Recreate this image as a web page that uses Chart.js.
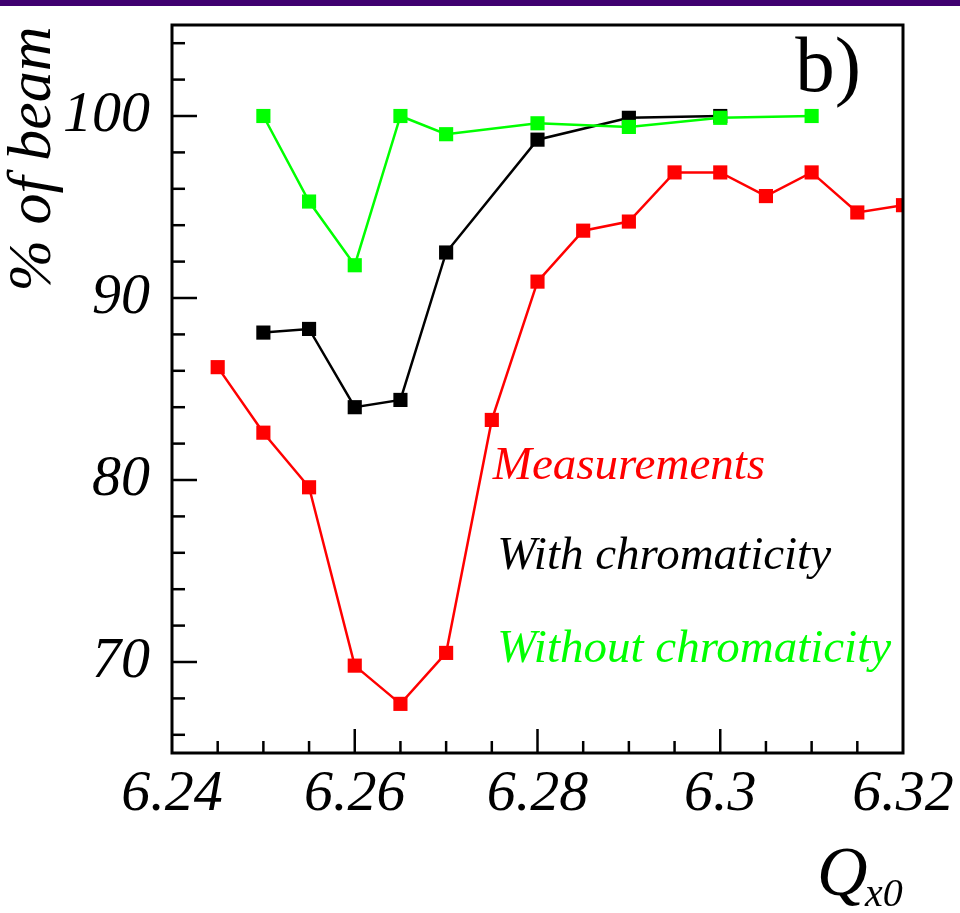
<!DOCTYPE html>
<html>
<head>
<meta charset="utf-8">
<script src="https://cdn.jsdelivr.net/npm/chart.js@4.4.1/dist/chart.umd.min.js"></script>
<style>
  html, body { margin: 0; padding: 0; background: #fff; }
  #wrap { position: relative; width: 960px; height: 913px; }
  #band { position: absolute; left: 0; top: 0; width: 960px; height: 6px; background: #400070; }
</style>
</head>
<body>
<div id="wrap">
  <canvas id="chart" width="960" height="913"></canvas>
  <div id="band"></div>
</div>
<script>
// tune Qx0 on the x axis, beam survival in % on the y axis
const measuredQ = [6.245, 6.25, 6.255, 6.26, 6.265, 6.27, 6.275, 6.28, 6.285, 6.29, 6.295, 6.30, 6.305, 6.31, 6.315, 6.32];
const measured = [86.2, 82.6, 79.6, 69.8, 67.7, 70.5, 83.3, 90.9, 93.7, 94.2, 96.9, 96.9, 95.6, 96.9, 94.7, 95.1];

const withChromQ = [6.25, 6.255, 6.26, 6.265, 6.27, 6.28, 6.29, 6.30];
const withChrom = [88.1, 88.3, 84.0, 84.4, 92.5, 98.7, 99.9, 100.0];

const withoutChromQ = [6.25, 6.255, 6.26, 6.265, 6.27, 6.28, 6.29, 6.30, 6.31];
const withoutChrom = [100.0, 95.3, 91.8, 100.0, 99.0, 99.6, 99.4, 99.9, 100.0];

const xTickLabels = ['6.24', '6.26', '6.28', '6.3', '6.32'];
const yTickLabels = ['70', '80', '90', '100'];

const serif = 'Liberation Serif, Times New Roman, serif';

function pts(xs, ys) {
    return xs.map((q, i) => ({ x: q, y: ys[i] }));
}

function isLabelled(labels, v) {
    return labels.find(l => Math.abs(parseFloat(l) - v) < 1e-6);
}

// frame, inward ticks and the text written inside the plot
const paperFrame = {
    id: 'paperFrame',
    afterDatasetsDraw(chart, args, opts) {
        const { ctx, chartArea: a, scales: { x, y } } = chart;
        ctx.save();
        ctx.strokeStyle = '#000';
        ctx.lineCap = 'butt';

        ctx.lineWidth = 2.5;
        x.ticks.forEach(t => {
            const px = x.getPixelForValue(t.value);
            if (px <= a.left + 1 || px >= a.right - 1) return;
            const len = isLabelled(xTickLabels, t.value) ? 24 : 12;
            ctx.beginPath();
            ctx.moveTo(px, a.bottom);
            ctx.lineTo(px, a.bottom - len);
            ctx.stroke();
        });
        y.ticks.forEach(t => {
            if (Math.round(t.value) % 2 !== 0) return;
            const py = y.getPixelForValue(t.value);
            if (py <= a.top + 1 || py >= a.bottom - 1) return;
            const len = isLabelled(yTickLabels, t.value) ? 25 : 13;
            ctx.beginPath();
            ctx.moveTo(a.left, py);
            ctx.lineTo(a.left + len, py);
            ctx.stroke();
        });

        ctx.lineWidth = 3;
        ctx.strokeRect(a.left, a.top, a.right - a.left, a.bottom - a.top);

        // series names, placed in data coordinates
        ctx.font = 'italic 47px ' + serif;
        ctx.textAlign = 'left';
        ctx.textBaseline = 'alphabetic';
        chart.data.datasets.forEach((ds, i) => {
            const at = opts.labelAt[i];
            ctx.fillStyle = ds.borderColor;
            ctx.fillText(ds.label, x.getPixelForValue(at[0]), y.getPixelForValue(at[1]));
        });

        ctx.fillStyle = '#000';
        ctx.font = '79px ' + serif;
        ctx.fillText('b)', x.getPixelForValue(opts.panelAt[0]), y.getPixelForValue(opts.panelAt[1]));

        // axis titles
        ctx.font = 'italic 70px ' + serif;
        ctx.fillText('Q', a.right - 86, 895);
        ctx.font = 'italic 40px ' + serif;
        ctx.fillText('x0', a.right - 38, 906);

        ctx.save();
        ctx.translate(50, 159);
        ctx.rotate(-Math.PI / 2);
        ctx.textAlign = 'center';
        ctx.font = 'italic 62px ' + serif;
        ctx.fillText('% of beam', 0, 0);
        ctx.restore();

        ctx.restore();
    }
};

const lineStyle = color => ({
    borderColor: color,
    backgroundColor: color,
    pointBackgroundColor: color,
    borderWidth: 2.5,
    pointStyle: 'rect',
    pointRadius: 10,
    pointBorderWidth: 0,
    tension: 0
});

new Chart(document.getElementById('chart'), {
    type: 'line',
    data: {
        datasets: [
            { label: 'Without chromaticity', data: pts(withoutChromQ, withoutChrom), ...lineStyle('#00ff00') },
            { label: 'With chromaticity', data: pts(withChromQ, withChrom), ...lineStyle('#000000') },
            { label: 'Measurements', data: pts(measuredQ, measured), ...lineStyle('#ff0000') }
        ]
    },
    options: {
        responsive: false,
        animation: false,
        layout: { padding: { top: 25, right: 57, left: 0, bottom: 0 } },
        plugins: {
            legend: { display: false },
            tooltip: { enabled: false },
            paperFrame: {
                labelAt: [[6.2756, 70.0], [6.2756, 75.1], [6.2751, 80.05]],
                panelAt: [6.3082, 101.35]
            }
        },
        scales: {
            x: {
                type: 'linear',
                min: 6.24,
                max: 6.32,
                afterFit(s) { s.height = 160; s.paddingLeft = 0; s.paddingRight = 0; },
                grid: { display: false, drawTicks: false },
                border: { display: false },
                ticks: {
                    stepSize: 0.005,
                    autoSkip: false,
                    maxRotation: 0,
                    padding: 7,
                    color: '#000',
                    font: { family: serif, style: 'italic', size: 58 },
                    callback: v => isLabelled(xTickLabels, v) || ''
                }
            },
            y: {
                min: 65,
                max: 105,
                afterFit(s) { s.width = 172; s.paddingTop = 0; s.paddingBottom = 0; },
                grid: { display: false, drawTicks: false },
                border: { display: false },
                ticks: {
                    stepSize: 1,
                    autoSkip: false,
                    padding: 22,
                    color: '#000',
                    font: { family: serif, style: 'italic', size: 58 },
                    callback: v => isLabelled(yTickLabels, v) || ''
                }
            }
        }
    },
    plugins: [paperFrame]
});
</script>
</body>
</html>
